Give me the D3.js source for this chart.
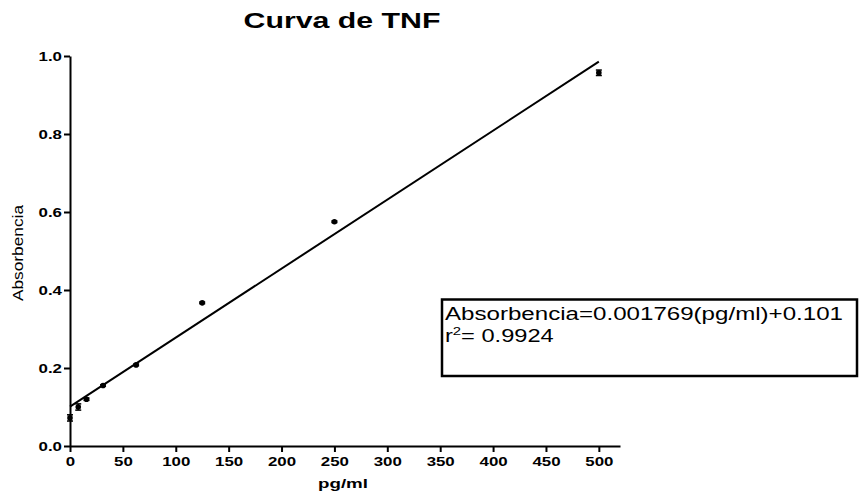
<!DOCTYPE html>
<html>
<head>
<meta charset="utf-8">
<script src="https://cdn.jsdelivr.net/npm/d3@7"></script>
<style>
  html, body { margin: 0; padding: 0; background: #fff; }
  svg { display: block; font-family: "Liberation Sans", Arial, sans-serif; }
</style>
</head>
<body>
<svg id="chart" width="859" height="495"></svg>
<script>
// TNF standard curve: concentration (pg/ml) vs absorbance
const concentrations = [0, 7.8, 15.6, 31.25, 62.5, 125, 250, 500];
const absorbance     = [0.072, 0.100, 0.120, 0.155, 0.208, 0.367, 0.575, 0.957];
const absorbanceErr  = [0.008, 0.008, 0.003, 0.002, 0.002, 0.002, 0.002, 0.007];
const xTicks = [0, 50, 100, 150, 200, 250, 300, 350, 400, 450, 500];
const yTicks = [0.0, 0.2, 0.4, 0.6, 0.8, 1.0];
const slope = 0.001769;
const intercept = 0.101;
const r2 = 0.9924;

// glyphs are drawn horizontally widened
const stretch = 1.35;

const svg = d3.select("#chart");
const x = d3.scaleLinear().domain([0, 520]).range([70, 620]);
const y = d3.scaleLinear().domain([0, 1]).range([446, 56]);

// Title
svg.append("text")
  .attr("x", 342).attr("y", 28)
  .attr("text-anchor", "middle")
  .attr("font-size", 21.5).attr("font-weight", "bold")
  .attr("textLength", 197).attr("lengthAdjust", "spacingAndGlyphs")
  .text("Curva de TNF");

// Axes
const xAxis = svg.append("g")
  .attr("transform", `translate(0,${y(0)})`)
  .call(d3.axisBottom(x).tickValues(xTicks).tickSize(6).tickSizeOuter(0).tickPadding(5).tickFormat(d3.format("d")));
const yAxis = svg.append("g")
  .attr("transform", `translate(${x(0)},0)`)
  .call(d3.axisLeft(y).tickValues(yTicks).tickSize(6).tickSizeOuter(0).tickPadding(1).tickFormat(d3.format(".1f")));

[xAxis, yAxis].forEach(g => {
  g.select(".domain").attr("stroke", "#000").attr("stroke-width", 2);
  g.selectAll(".tick line").attr("stroke", "#000").attr("stroke-width", 2);
  g.selectAll(".tick text")
    .attr("fill", "#000")
    .attr("font-size", 12.5)
    .attr("font-weight", "bold")
    .attr("font-family", "'Liberation Sans', Arial, sans-serif");
});
xAxis.selectAll(".tick text").attr("transform", `scale(${stretch},1)`);
yAxis.selectAll(".tick text")
  .attr("x", 0)
  .attr("transform", `translate(-8,0) scale(${stretch},1)`);

// Axis titles
svg.append("text")
  .attr("x", 343).attr("y", 488)
  .attr("text-anchor", "middle")
  .attr("font-size", 13.5).attr("font-weight", "bold")
  .attr("textLength", 50).attr("lengthAdjust", "spacingAndGlyphs")
  .text("pg/ml");
svg.append("text")
  .attr("transform", `translate(23,${y(0.5) + 2}) rotate(-90)`)
  .attr("text-anchor", "middle")
  .attr("font-size", 14.5)
  .attr("textLength", 96).attr("lengthAdjust", "spacingAndGlyphs")
  .text("Absorbencia");

// Linear regression line
svg.append("line")
  .attr("x1", x(0)).attr("y1", y(intercept))
  .attr("x2", x(500)).attr("y2", y(intercept + slope * 500))
  .attr("stroke", "#000").attr("stroke-width", 2);

// Error bars
const pts = concentrations.map((c, i) => ({ c, a: absorbance[i], e: absorbanceErr[i] }));
const eb = svg.append("g").attr("stroke", "#000").attr("stroke-width", 1.5);
pts.forEach(p => {
  eb.append("line").attr("x1", x(p.c)).attr("x2", x(p.c)).attr("y1", y(p.a - p.e)).attr("y2", y(p.a + p.e));
  eb.append("line").attr("x1", x(p.c) - 3).attr("x2", x(p.c) + 3).attr("y1", y(p.a - p.e)).attr("y2", y(p.a - p.e));
  eb.append("line").attr("x1", x(p.c) - 3).attr("x2", x(p.c) + 3).attr("y1", y(p.a + p.e)).attr("y2", y(p.a + p.e));
});

// Data points
svg.append("g").selectAll("circle")
  .data(pts).join("circle")
  .attr("cx", d => x(d.c)).attr("cy", d => y(d.a))
  .attr("r", 2.8).attr("fill", "#000");

// Regression equation box
svg.append("rect")
  .attr("x", 442).attr("y", 299.5)
  .attr("width", 415).attr("height", 76.5)
  .attr("fill", "#fff").attr("stroke", "#000").attr("stroke-width", 2.5);
svg.append("text")
  .attr("x", 445).attr("y", 320)
  .attr("font-size", 17.5)
  .attr("textLength", 398).attr("lengthAdjust", "spacingAndGlyphs")
  .text(`Absorbencia=${slope}(pg/ml)+${intercept}`);
const r2Text = svg.append("text")
  .attr("x", 445).attr("y", 342)
  .attr("font-size", 17.5)
  .attr("transform", `translate(445,0) scale(${stretch},1) translate(-445,0)`);
r2Text.append("tspan").text("r");
r2Text.append("tspan").attr("dy", -7).attr("font-size", 11).text("2");
r2Text.append("tspan").attr("dy", 7).text(`= ${r2}`);
</script>
</body>
</html>
